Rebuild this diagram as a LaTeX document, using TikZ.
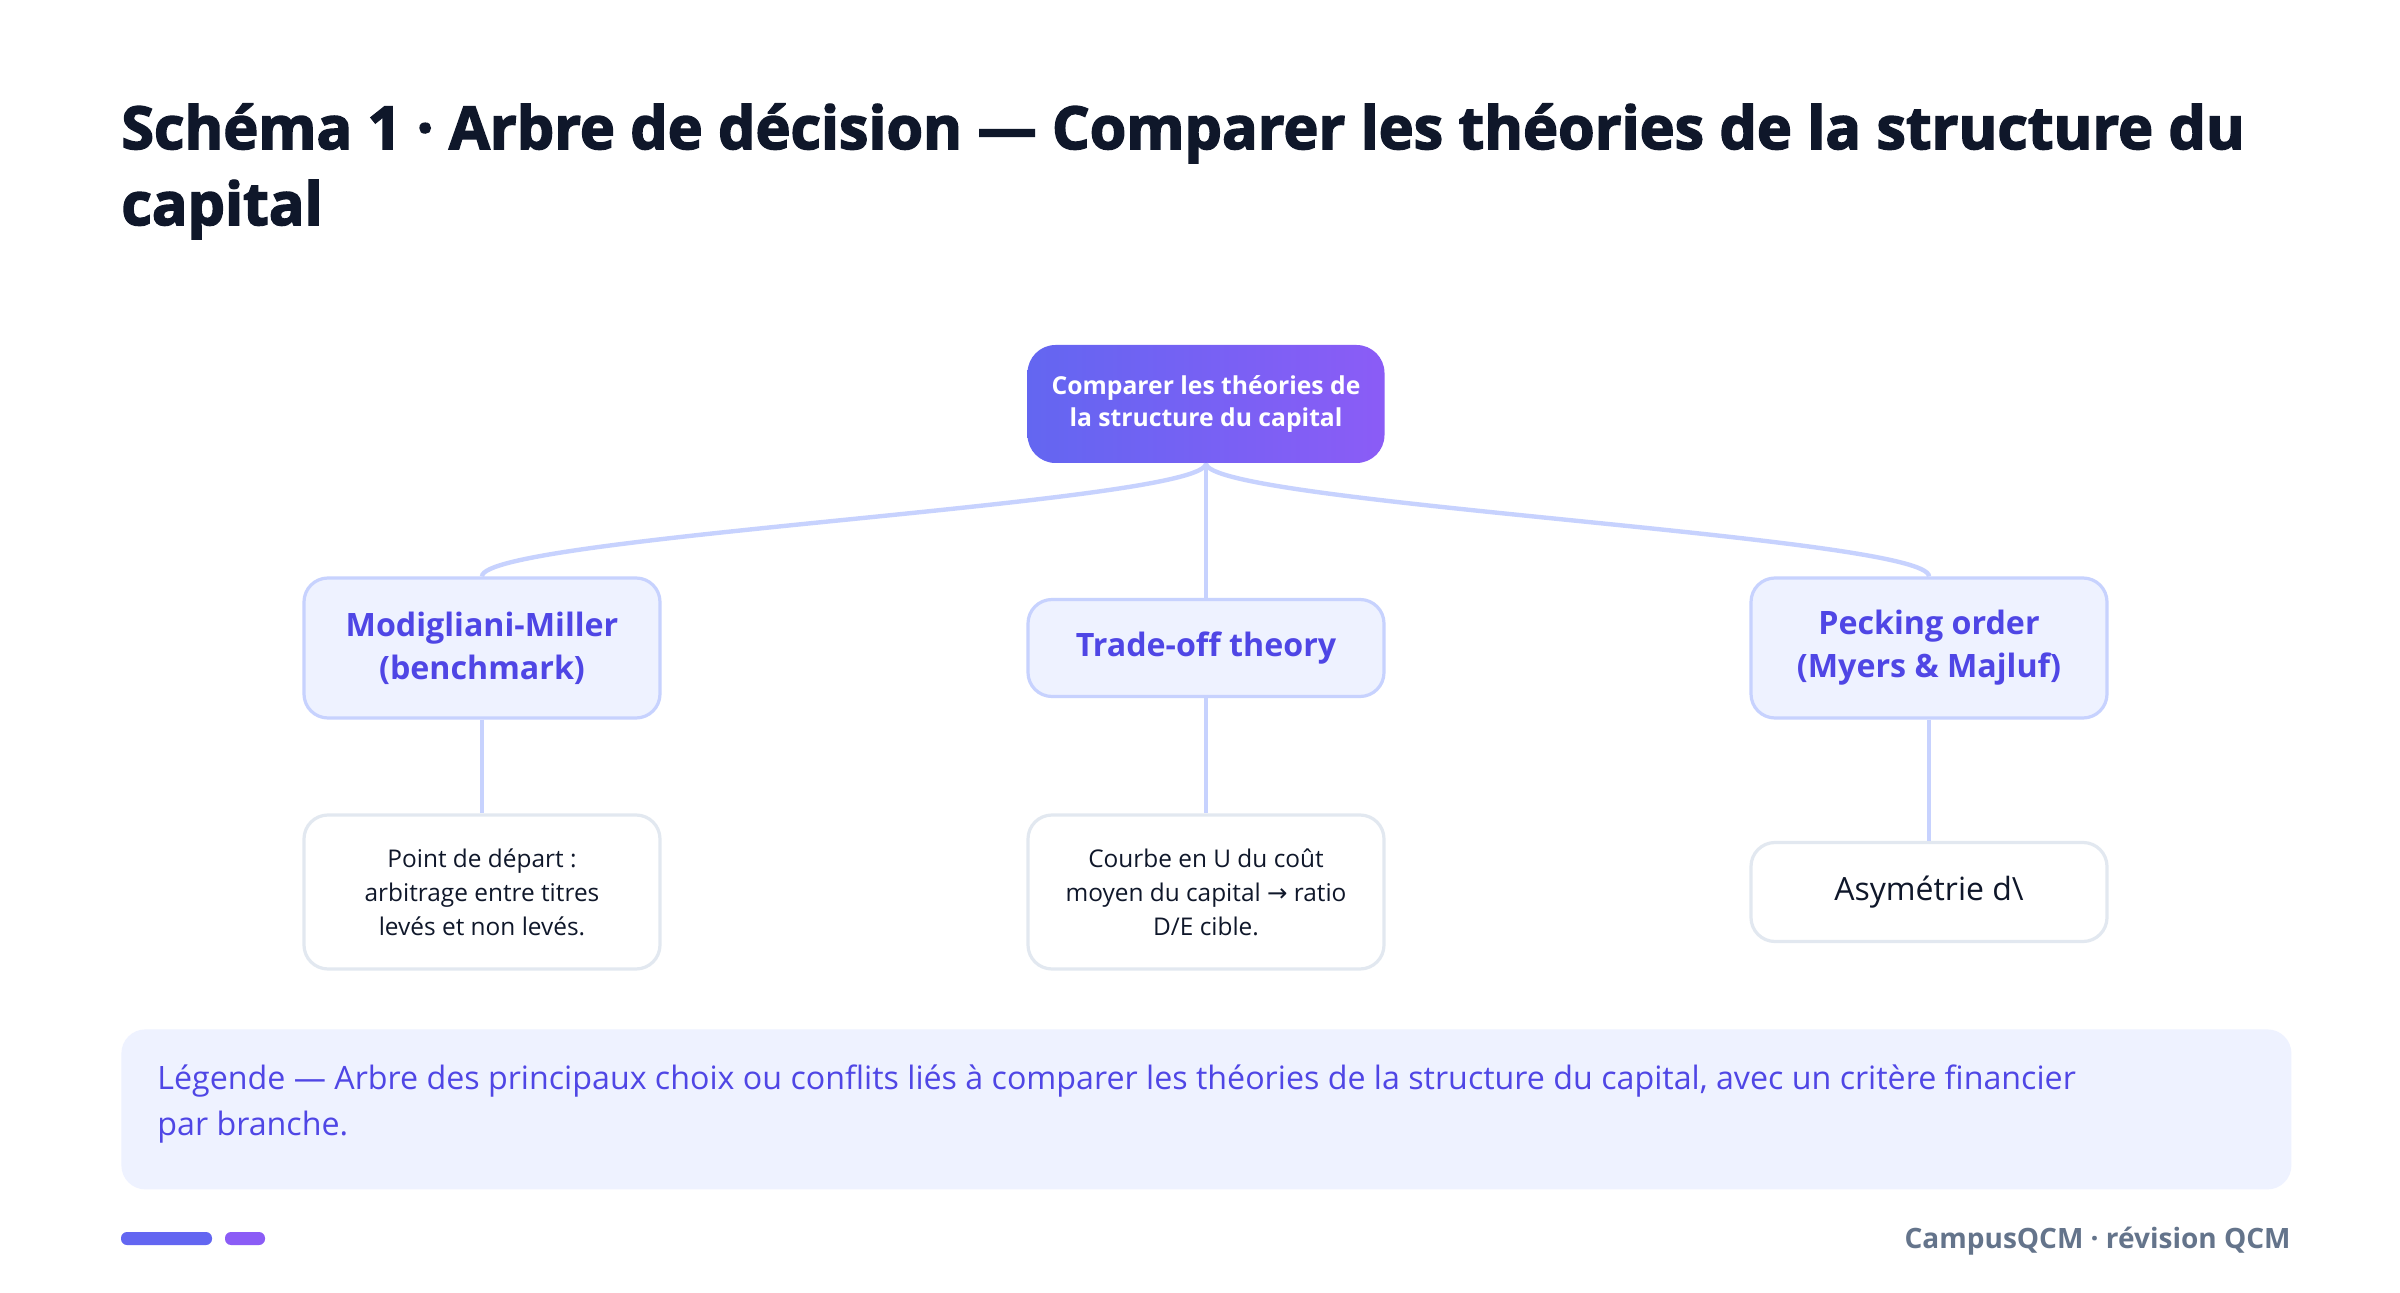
\documentclass[tikz,border=0pt]{standalone}
\usepackage{fontspec}
\setmainfont{Open Sans}
\newfontfamily\titlefont{Open Sans}[BoldFeatures={FakeBold=2.6}]
\newfontfamily\symfont{DejaVu Sans}
\usetikzlibrary{calc}
\definecolor{indigoA}{HTML}{6366F1}
\definecolor{violetA}{HTML}{8B5CF6}
\definecolor{paleA}{HTML}{EEF2FF}
\definecolor{edgeA}{HTML}{C7D2FE}
\definecolor{txtA}{HTML}{4F46E5}
\definecolor{grayB}{HTML}{E2E8F0}
\definecolor{darkA}{HTML}{0F172A}
\definecolor{footA}{HTML}{64748B}
\tikzset{
  rootbox/.style={rounded corners=14pt, left color=indigoA, right color=violetA, draw=none,
    minimum width=178.5pt, minimum height=59pt, align=center, text=white,
    font=\fontsize{12.35}{16}\selectfont\bfseries, inner sep=0pt},
  lvlone/.style={rounded corners=12pt, fill=paleA, draw=edgeA, line width=1.6pt,
    minimum width=178pt, align=center, text=txtA,
    font=\fontsize{16.1}{21.5}\selectfont\bfseries, inner sep=0pt},
  lvltwo/.style={rounded corners=12pt, fill=white, draw=grayB, line width=1.6pt,
    minimum width=178pt, align=center, text=darkA,
    font=\fontsize{12.2}{17}\selectfont, inner sep=0pt},
  conn/.style={draw=edgeA, line width=2.2pt},
}
\begin{document}
\begin{tikzpicture}[x=0.5pt,y=-0.5pt]
\useasboundingbox (0,0) rectangle (2400,1293);
\fill[white] (0,0) rectangle (2400,1293);
% title
\node[anchor=base west, inner sep=0pt, text=darkA, font=\titlefont\fontsize{29.6}{38}\selectfont\bfseries] (t1) at (121,149) {Schéma 1 · Arbre de décision — Comparer les théories de la structure du};
\node[anchor=base west, inner sep=0pt, text=darkA, font=\titlefont\fontsize{29.6}{38}\selectfont\bfseries] (t2) at (121,225) {capital};
% root
\node[rootbox] (root) at (1206,404) {Comparer les théories de\\la structure du capital};
% level one
\node[lvlone, minimum height=70pt] (mm) at (482,648) {Modigliani-Miller\\(benchmark)};
\node[lvlone, minimum height=48.5pt] (to) at (1206,648) {Trade-off theory};
\node[lvlone, minimum height=70pt] (po) at (1929,648) {Pecking order\\(Myers \& Majluf)};
% level two
\node[lvltwo, minimum height=77pt] (mm2) at (482,892) {Point de départ :\\arbitrage entre titres\\levés et non levés.};
\node[lvltwo, minimum height=77pt] (to2) at (1206,892) {Courbe en U du coût\\moyen du capital {\symfont →} ratio\\D/E cible.};
\node[lvltwo, minimum height=49.5pt, font=\fontsize{16}{20}\selectfont] (po2) at (1929,892) {Asymétrie d\textbackslash};
% connectors
\draw[conn] (root.south) .. controls +(0,40) and +(0,-40) .. (mm.north);
\draw[conn] (root.south) .. controls +(0,40) and +(0,-40) .. (po.north);
\draw[conn] (root.south) -- (to.north);
\draw[conn] (mm.south) -- (mm2.north);
\draw[conn] (to.south) -- (to2.north);
\draw[conn] (po.south) -- (po2.north);
% legend
\node[fill=paleA, rounded corners=12pt, minimum width=1085pt, minimum height=80pt, inner sep=0pt, anchor=north west] (leg) at (121,1029) {};
\node[anchor=base west, inner sep=0pt, text=txtA, font=\fontsize{16.1}{23}\selectfont] (l1) at (157,1089) {Légende — Arbre des principaux choix ou conflits liés à comparer les théories de la structure du capital, avec un critère financier};
\node[anchor=base west, inner sep=0pt, text=txtA, font=\fontsize{16.1}{23}\selectfont] (l2) at (157,1135) {par branche.};
% footer
\fill[indigoA, rounded corners=3pt] (121,1232) rectangle (212,1245);
\fill[violetA, rounded corners=3pt] (225,1232) rectangle (265,1245);
\node[anchor=base east, inner sep=0pt, text=footA, font=\fontsize{14}{17}\selectfont\bfseries] (ft) at (2291,1248) {CampusQCM · révision QCM};
\end{tikzpicture}
\end{document}
